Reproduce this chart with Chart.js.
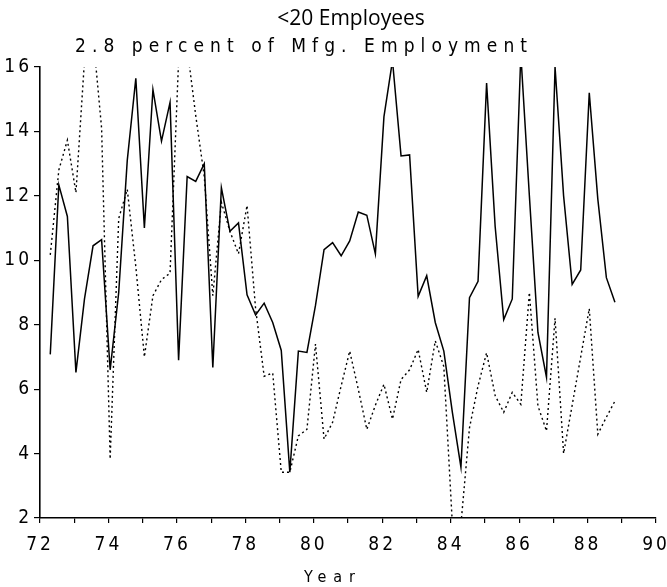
<!DOCTYPE html>
<html>
<head>
<meta charset="utf-8">
<script src="https://cdn.jsdelivr.net/npm/chart.js@4.4.1/dist/chart.umd.min.js"></script>
<style>
  body { margin: 0; background: #fff; }
  #wrap { width: 667px; height: 587px; }
</style>
</head>
<body>
<div id="wrap"><canvas id="lineChart1" width="667" height="587"></canvas></div>
<script>
// quarterly observations, 1972-1988
const quarters = [
  72.3, 72.55, 72.8,
  73.05, 73.3, 73.55, 73.8,
  74.05, 74.3, 74.55, 74.8,
  75.05, 75.3, 75.55, 75.8,
  76.05, 76.3, 76.55, 76.8,
  77.05, 77.3, 77.55, 77.8,
  78.05, 78.3, 78.55, 78.8,
  79.05, 79.3, 79.55, 79.8,
  80.05, 80.3, 80.55, 80.8,
  81.05, 81.3, 81.55, 81.8,
  82.05, 82.3, 82.55, 82.8,
  83.05, 83.3, 83.55, 83.8,
  84.05, 84.3, 84.55, 84.8,
  85.05, 85.3, 85.55, 85.8,
  86.05, 86.3, 86.55, 86.8,
  87.05, 87.3, 87.55, 87.8,
  88.05, 88.3, 88.55, 88.8,
];

const solidSeries = [
  7.08, 12.34, 11.36,
  6.52, 8.8, 10.45, 10.64,
  6.6, 9.0, 13.1, 15.65,
  11.0, 15.3, 13.7, 14.9,
  6.9, 12.6, 12.45, 13.0,
  6.67, 12.25, 10.9, 11.16,
  8.93, 8.3, 8.67, 8.07,
  7.2, 3.42, 7.18, 7.14,
  8.6, 10.33, 10.55, 10.14,
  10.6, 11.5, 11.4, 10.2,
  14.45, 16.2, 13.24, 13.27,
  8.88, 9.52, 8.07, 7.18,
  5.28, 3.58, 8.84, 9.35,
  15.5, 11.05, 8.16, 8.8,
  16.4, 12.0, 7.76, 6.37,
  16.0, 12.0, 9.25, 9.7,
  15.2, 11.9, 9.46, 8.7,
];

const dottedSeries = [
  10.17, 12.8, 13.73,
  12.1, 16.2, 17.0, 14.1,
  3.83, 11.3, 12.2, 9.8,
  7.0, 8.9, 9.4, 9.6,
  16.2, 16.6, 14.5, 12.6,
  8.9, 11.8, 10.9, 10.2,
  11.7, 8.5, 6.4, 6.5,
  3.42, 3.42, 4.55, 4.75,
  7.4, 4.45, 4.97, 6.1,
  7.18, 6.0, 4.75, 5.5,
  6.15, 5.07, 6.3, 6.6,
  7.23, 5.9, 7.5, 6.7,
  1.8, 1.8, 4.8, 6.1,
  7.13, 5.8, 5.28, 5.9,
  5.53, 9.0, 5.48, 4.7,
  8.2, 4.0, 5.5, 7.0,
  8.5, 4.6, 5.13, 5.63,
];

const yearTicks = [72, 74, 76, 78, 80, 82, 84, 86, 88, 90];
const valueTicks = [2, 4, 6, 8, 10, 12, 14, 16];

const titleText = "<20 Employees";
const subtitleText = "2.8 percent of Mfg. Employment";
const xTitleText = "Year";

const plotFont = "'Liberation Sans Narrow', 'DejaVu Sans Condensed', 'DejaVu Sans', sans-serif";

function pairs(xs, ys) {
  return xs.map((x, i) => ({ x: x, y: ys[i] }));
}

// text drawn letter by letter spaced to span x0..x1
function spacedText(ctx, text, x0, x1, y, font) {
  ctx.font = font;
  ctx.letterSpacing = "0px";
  const w = ctx.measureText(text).width;
  const gap = Math.max(0, (x1 - x0 - w) / (text.length - 1));
  ctx.letterSpacing = gap + "px";
  ctx.textAlign = "left";
  ctx.fillText(text, x0, y);
  ctx.letterSpacing = "0px";
}

const textPlugin = {
  id: "textPlugin",
  beforeDraw(chart) {
    chart.ctx.letterSpacing = "3px";
  },
  afterDraw(chart) {
    const ctx = chart.ctx;
    ctx.save();
    ctx.letterSpacing = "0px";
    ctx.fillStyle = "#000";
    ctx.textBaseline = "middle";
    ctx.textAlign = "center";
    ctx.font = "21px 'Open Sans', 'DejaVu Sans', sans-serif";
    ctx.fillText(titleText, 351, 19);
    spacedText(ctx, subtitleText, 75, 527, 47, "19px " + plotFont);
    spacedText(ctx, xTitleText, 304, 355, 578, "16px " + plotFont);
    ctx.restore();
  },
};

const lineChartcnt = document.getElementById("lineChart1");

function lineChart() {
  const tickFont = { family: plotFont, size: 19 };
  new Chart(lineChartcnt, {
    type: "line",
    data: {
      datasets: [
        {
          label: "solid",
          data: pairs(quarters, solidSeries),
          borderColor: "#000",
          borderWidth: 1.5,
          pointRadius: 0,
          tension: 0,
        },
        {
          label: "dotted",
          data: pairs(quarters, dottedSeries),
          borderColor: "#000",
          borderWidth: 1.4,
          borderDash: [2, 3],
          pointRadius: 0,
          tension: 0,
        },
      ],
    },
    options: {
      responsive: false,
      animation: false,
      layout: { padding: { top: 67, right: 11, left: 0, bottom: 0 } },
      plugins: {
        legend: { display: false },
        tooltip: { enabled: false },
      },
      scales: {
        x: {
          type: "linear",
          min: 72,
          max: 90,
          ticks: {
            stepSize: 1,
            autoSkip: false,
            maxRotation: 0,
            color: "#000",
            font: tickFont,
            padding: 11,
            callback: (v) => (yearTicks.includes(v) ? String(v) : ""),
          },
          grid: { drawOnChartArea: false, tickLength: 5, color: "#000", lineWidth: 1.2 },
          border: { color: "#000", width: 1.6 },
          afterFit: (s) => {
            s.height = 69;
            s.paddingLeft = 0;
            s.paddingRight = 0;
          },
        },
        y: {
          min: 2,
          max: 16,
          afterBuildTicks: (s) => { s.ticks = valueTicks.map((v) => ({ value: v })); },
          ticks: {
            color: "#000",
            font: tickFont,
            padding: 2,
          },
          grid: { drawOnChartArea: false, tickLength: 6, color: "#000", lineWidth: 1.2 },
          border: { color: "#000", width: 1.6 },
          afterFit: (s) => {
            s.width = 40;
            s.paddingTop = 0;
            s.paddingBottom = 0;
          },
        },
      },
    },
    plugins: [textPlugin],
  });
}

lineChart();
</script>
</body>
</html>
